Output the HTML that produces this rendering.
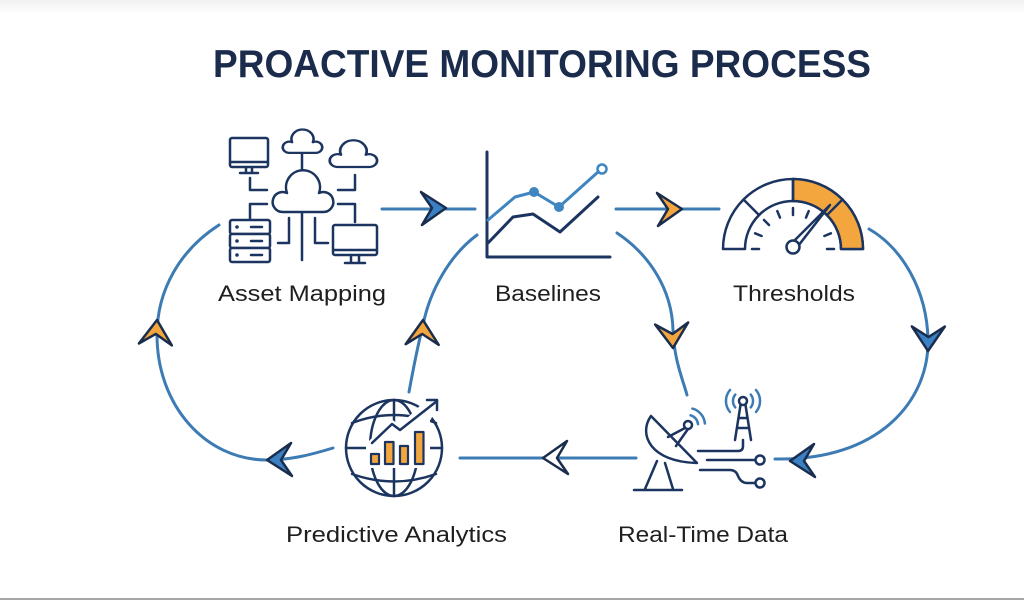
<!DOCTYPE html>
<html><head><meta charset="utf-8"><style>
html,body{margin:0;padding:0;background:#fff;}
body{width:1024px;height:600px;overflow:hidden;}
svg{display:block;}
text{font-family:"Liberation Sans",sans-serif;}
</style></head><body>
<svg width="1024" height="600" viewBox="0 0 1024 600" xmlns="http://www.w3.org/2000/svg">
<defs>
<path id="dart" d="M0,0 L-25,-16 L-14,0 L-24,17 Z" stroke="#1b2d4d" stroke-width="2.5" stroke-linejoin="round"/>
<path id="cloud" d="M10,39 A10,10 0 1 1 14,20 A17,17 0 1 1 46,20 A10,10 0 1 1 50,39 Z"/>
<linearGradient id="topg" x1="0" y1="0" x2="0" y2="1"><stop offset="0" stop-color="#f0f0f0"/><stop offset="1" stop-color="#ffffff"/></linearGradient>
</defs>
<rect x="0" y="0" width="1024" height="600" fill="#fff"/>
<rect x="0" y="0" width="1024" height="14" fill="url(#topg)"/>
<rect x="0" y="598" width="1024" height="2" fill="#a6a6a6"/>

<!-- Title -->
<text x="213" y="77" font-size="39" font-weight="bold" fill="#1b2b4b" textLength="658" lengthAdjust="spacingAndGlyphs">PROACTIVE MONITORING PROCESS</text>

<!-- Connectors -->
<g fill="none" stroke="#3c7bb3" stroke-width="3" stroke-linecap="round">
<path d="M382,209 H475"/>
<path d="M616,209 H719"/>
<path d="M617,233 C650,255 672,290 673,330 C674,360 683,380 687,395"/>
<path d="M869,229 C902,248 927,290 928,340 C929,400 880,461 775,459"/>
<path d="M636,458 H460"/>
<path d="M333,448 C310,455 290,460 267,460 C205,460 157,405 157,335 C157,290 180,250 219,225"/>
<path d="M409,392 C413,370 418,345 423,325 C430,290 450,255 477,235"/>
</g>

<!-- Arrowheads -->
<use href="#dart" fill="#3b80c2" transform="translate(446,208)"/>
<use href="#dart" fill="#f4a63e" transform="translate(682,209)"/>
<use href="#dart" fill="#f4a63e" transform="translate(673,348) rotate(88)"/>
<use href="#dart" fill="#3b80c2" transform="translate(928,351) rotate(92)"/>
<use href="#dart" fill="#3b80c2" transform="translate(790,461) rotate(180)"/>
<use href="#dart" fill="#ffffff" transform="translate(543,458) rotate(180)"/>
<use href="#dart" fill="#3b80c2" transform="translate(267,460) rotate(180)"/>
<use href="#dart" fill="#f4a63e" transform="translate(157,320) rotate(-85)"/>
<use href="#dart" fill="#f4a63e" transform="translate(423,320) rotate(-87)"/>

<!-- Asset Mapping icon -->
<g fill="none" stroke="#1c3560" stroke-width="2.5" stroke-linejoin="round" stroke-linecap="round">
<rect x="230" y="138" width="38" height="29" rx="2" fill="#fff"/>
<path d="M231,162 H267"/>
<path d="M246,167 V172 M252,167 V172 M240,173 H258"/>
<path d="M302,153 V173"/>
<path d="M250,178 V190 H267"/>
<path d="M355,175 V190 H338"/>
<path d="M267,204 H250 V218"/>
<path d="M338,204 H355 V222"/>
<path d="M302,212 V260"/>
<path d="M289,218 V243 H278"/>
<path d="M315,218 V243 H328"/>
<use href="#cloud" fill="#fff" vector-effect="non-scaling-stroke" transform="translate(273,173)"/>
<g transform="translate(283,131) scale(0.65,0.56)"><use href="#cloud" fill="#fff" stroke-width="4"/></g>
<g transform="translate(330,142) scale(0.78,0.64)"><use href="#cloud" fill="#fff" stroke-width="3.5"/></g>
<rect x="333" y="225" width="44" height="30" rx="2" fill="#fff"/>
<path d="M334,250 H376"/>
<path d="M351,255 V262 M359,255 V262 M345,263 H365"/>
<rect x="230" y="220" width="40" height="14" rx="2" fill="#fff"/>
<rect x="230" y="234" width="40" height="14" rx="2" fill="#fff"/>
<rect x="230" y="248" width="40" height="14" rx="2" fill="#fff"/>
<path d="M251,227 H262 M251,241 H262 M251,255 H262"/>
</g>
<g fill="#1c3560"><circle cx="237" cy="227" r="1.8"/><circle cx="237" cy="241" r="1.8"/><circle cx="237" cy="255" r="1.8"/></g>

<!-- Baselines icon -->
<g fill="none" stroke-linejoin="round" stroke-linecap="round">
<path d="M487,152 V257 H610" stroke="#1c3560" stroke-width="3"/>
<path d="M488,243 L513,217 L533,214 L560,232 L598,197" stroke="#1c3560" stroke-width="3"/>
<path d="M488,220 L515,197 L534,192 L559,207 L598,172" stroke="#3f86c0" stroke-width="3"/>
<circle cx="602" cy="169" r="4.5" stroke="#3f86c0" stroke-width="2.5" fill="#fff"/>
</g>
<g fill="#3f86c0"><circle cx="534" cy="192" r="5"/><circle cx="559" cy="207" r="5"/></g>

<!-- Thresholds gauge -->
<g stroke="#1c3560" stroke-width="2.5" stroke-linejoin="round" stroke-linecap="round">
<path d="M723,249 A70,70 0 0 1 863,249 L841,249 A48,48 0 0 0 745,249 Z" fill="#fff"/>
<path d="M793,179 A70,70 0 0 1 863,249 L841,249 A48,48 0 0 0 793,201 Z" fill="#f4a63e"/>
<path d="M743.5,199.5 L759.1,215.1 M793,179 V201 M842.5,199.5 L826.9,215.1" fill="none"/>
<path d="M752,249 H759 M755.1,233.3 L761.6,236 M764,220 L769,225 M777.3,211.1 L780,217.6 M793,208 V215 M808.7,211.1 L806,217.6 M830.9,233.3 L824.4,236 M827,249 H834" fill="none"/>
<path d="M790.2,244.8 L830,205 L795.6,249.2 Z" fill="#fff"/>
<circle cx="793" cy="247" r="6.5" fill="#fff"/>
</g>

<!-- Predictive Analytics globe -->
<g fill="none" stroke="#1c3560" stroke-width="2.5" stroke-linecap="round" stroke-linejoin="round">
<circle cx="394" cy="448" r="48"/>
<line x1="394" y1="400" x2="394" y2="496"/>
<ellipse cx="394" cy="448" rx="24" ry="48"/>
<line x1="346" y1="448" x2="442" y2="448"/>
<path d="M352,423 Q394,407 436,423"/>
<path d="M352,474 Q394,489 436,474"/>
</g>
<path d="M366,444 L391,419 L400,425 L428,398 L442,404 L430,420 L430,468 L366,468 Z" fill="#fff"/>
<g stroke="#1c3560" stroke-width="2.2" stroke-linejoin="round" fill="#f4a63e">
<rect x="371" y="454" width="8" height="10"/>
<rect x="385" y="442" width="8.5" height="22"/>
<rect x="400" y="446" width="8" height="18"/>
<rect x="415" y="432" width="8.5" height="32"/>
</g>
<g fill="none" stroke="#1c3560" stroke-width="2.5" stroke-linecap="round" stroke-linejoin="round">
<path d="M372,443 L392,424 L400,430 L437,401"/>
<path d="M427,400 H437 V410"/>
</g>

<!-- Real-Time Data icon -->
<g fill="none" stroke="#1c3560" stroke-width="2.5" stroke-linecap="round" stroke-linejoin="round">
<path d="M651,416 C638,434 650,462 697,463 Z" fill="#fff"/>
<path d="M668,437 L685,428 M676,446 L688,429"/>
<circle cx="688" cy="425" r="4" fill="#fff"/>
<path d="M657,461 L645,489 M665,463 L673,489 M634,490 H682"/>
<circle cx="743" cy="401" r="4"/>
<path d="M740.5,405 L735,440 M745.5,405 L751,440 M738.5,418 H747.5 M736.9,428 H749.1"/>
<path d="M698,451 H738 Q743,451 743,446 V440"/>
<path d="M707,460 H755.5"/>
<circle cx="760" cy="460" r="4.5" fill="#fff"/>
<path d="M700,470 H730 Q736,470 738,476 Q741,483 747,483 H755.5"/>
<circle cx="760" cy="483" r="4.5" fill="#fff"/>
</g>
<g fill="none" stroke="#3c7bb3" stroke-width="2.5" stroke-linecap="round">
<path d="M690.6,415.3 A10,10 0 0 1 698,424.1 M692.4,408.6 A17,17 0 0 1 704.9,423.5"/>
<path d="M735.3,394.6 A10,10 0 0 0 735.3,407.4 M730,390 A17,17 0 0 0 730,412"/>
<path d="M750.7,394.6 A10,10 0 0 1 750.7,407.4 M756,390 A17,17 0 0 1 756,412"/>
</g>

<!-- Labels -->
<g font-size="22" fill="#1f1f1f">
<text x="218" y="301" textLength="168" lengthAdjust="spacingAndGlyphs">Asset Mapping</text>
<text x="495" y="301" textLength="106" lengthAdjust="spacingAndGlyphs">Baselines</text>
<text x="733" y="301" textLength="122" lengthAdjust="spacingAndGlyphs">Thresholds</text>
<text x="286" y="542" textLength="221" lengthAdjust="spacingAndGlyphs">Predictive Analytics</text>
<text x="618" y="542" textLength="170" lengthAdjust="spacingAndGlyphs">Real-Time Data</text>
</g>
</svg>
</body></html>
